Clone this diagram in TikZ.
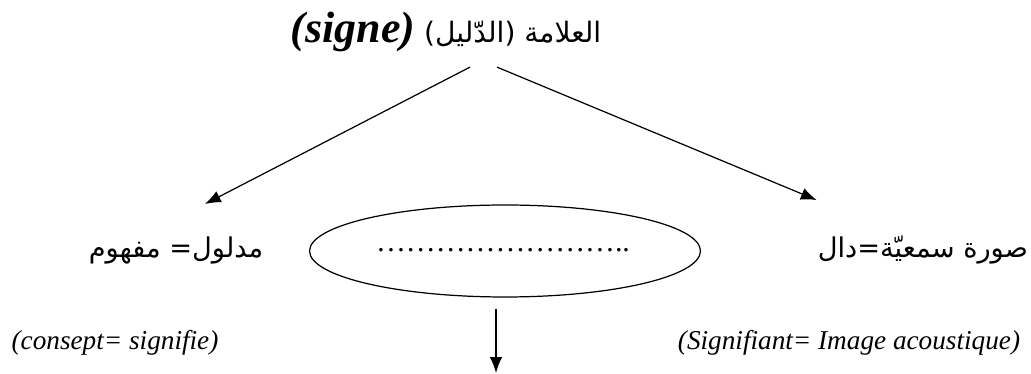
\documentclass[tikz,border=0pt]{standalone}
\usepackage{fontspec}
\setmainfont{Liberation Serif}
\newfontfamily\arabicfont[Script=Arabic]{DejaVu Sans}
\TeXXeTstate=1
\usetikzlibrary{arrows.meta}
\usetikzlibrary{shapes.geometric}
\newcommand{\artext}[1]{{\arabicfont\fontsize{15.5}{19}\selectfont\beginR #1\endR}}
\newcommand{\latext}[1]{{\fontsize{15.5}{18}\selectfont\itshape #1}}
\begin{document}
\begin{tikzpicture}[x=0.02cm,y=-0.02cm,
  arr/.style={-{Latex[length=9pt,width=7pt]},line width=0.7pt}]
\useasboundingbox (0,0) rectangle (1031,374);
\node (sign) at (446,32) {\arabicfont\fontsize{16}{19}\selectfont\beginR العلامة (الدّليل) \beginL{\rmfamily\fontsize{25}{28}\selectfont\bfseries\itshape(signe)}\endL\endR};
\node (mdl) at (176,250) {\artext{مدلول= مفهوم}};
\node (dal) [anchor=east,inner sep=1pt] at (1030,250) {\artext{صورة سمعيّة=دال}};
\node (mid) [ellipse,draw,line width=0.7pt,minimum width=7.82cm,minimum height=1.84cm] at (505,251) {};
\node (dots) at (503,250) {\fontsize{17}{20}\selectfont ……………………..};
\node (cs) at (115,343) {\latext{(consept= signifie)}};
\node (si) at (849,343) {\latext{(Signifiant= Image acoustique)}};
\coordinate (down) at (496,373);
\draw[arr] ([shift={(24,9)}]sign.south) -- ([shift={(29,-46)}]mdl.center);
\draw[arr] ([shift={(51,9)}]sign.south) -- ([shift={(1,-34)}]dal.north west);
\draw[arr] ([shift={(-9,11)}]mid.south) -- (down);
\end{tikzpicture}
\end{document}
